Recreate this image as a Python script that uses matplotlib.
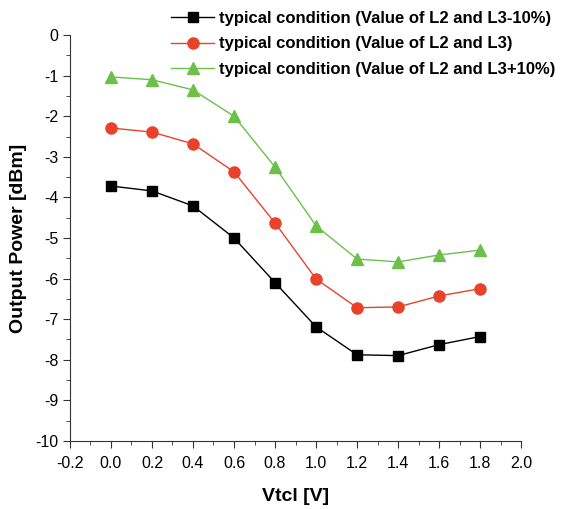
import matplotlib
matplotlib.use("Agg")
import matplotlib.pyplot as plt
from matplotlib.ticker import MultipleLocator

plt.rcParams["font.family"] = ["Liberation Sans", "DejaVu Sans"]

vtcl = [0.0, 0.2, 0.4, 0.6, 0.8, 1.0, 1.2, 1.4, 1.6, 1.8]
p_minus10 = [-3.72, -3.84, -4.21, -5.0, -6.1, -7.19, -7.88, -7.9, -7.63, -7.43]
p_typ = [-2.29, -2.39, -2.68, -3.37, -4.63, -6.01, -6.72, -6.70, -6.43, -6.25]
p_plus10 = [-1.03, -1.10, -1.35, -2.0, -3.25, -4.7, -5.52, -5.59, -5.42, -5.3]

labels = [
    "typical condition (Value of L2 and L3-10%)",
    "typical condition (Value of L2 and L3)",
    "typical condition (Value of L2 and L3+10%)",
]

fig = plt.figure(figsize=(5.64, 5.09), dpi=100)
ax = fig.add_axes([0.124, 0.134, 0.800, 0.797])

ax.plot(vtcl, p_minus10, "s-", color="black", lw=1, ms=7, label=labels[0])
ax.plot(vtcl, p_typ, "o-", color="#e8432a", lw=1, ms=8, label=labels[1])
ax.plot(vtcl, p_plus10, "^-", color="#6cc04a", lw=1, ms=8, label=labels[2])

ax.set_xlim(-0.2, 2.0)
ax.set_ylim(-10, 0)
ax.xaxis.set_major_locator(MultipleLocator(0.2))
ax.xaxis.set_minor_locator(MultipleLocator(0.1))
ax.yaxis.set_major_locator(MultipleLocator(1))
ax.yaxis.set_minor_locator(MultipleLocator(0.5))
ax.set_xticklabels([f"{v:.1f}" for v in ax.get_xticks()])
ax.set_yticklabels([f"{v:g}" for v in ax.get_yticks()])
ax.tick_params(which="major", direction="out", length=5, labelsize=11.5, color="#333333")
ax.tick_params(axis="x", which="major", pad=6)
ax.tick_params(which="minor", direction="out", length=3, color="#333333")

for side in ["top", "right"]:
    ax.spines[side].set_visible(False)
for side in ["left", "bottom"]:
    ax.spines[side].set_color("#333333")

ax.set_xlabel("Vtcl [V]", fontsize=14, fontweight="bold", labelpad=12)
ax.set_ylabel("Output Power [dBm]", fontsize=14, fontweight="bold", labelpad=6)

leg = fig.legend(loc="upper right", bbox_to_anchor=(0.99, 0.983), frameon=True,
                 prop={"weight": "bold", "size": 12}, handlelength=2.6,
                 handletextpad=0.3, labelspacing=0.62, borderpad=0.15,
                 borderaxespad=0.0)
leg.get_frame().set_facecolor("white")
leg.get_frame().set_edgecolor("none")
leg.get_frame().set_alpha(1)

fig.savefig("out.png", dpi=100)
